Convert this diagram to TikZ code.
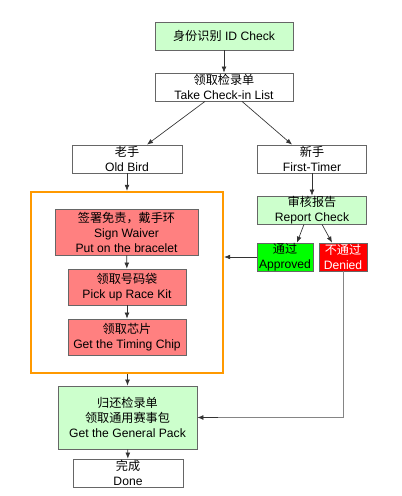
\documentclass[tikz,border=0pt]{standalone}
\usepackage{fontspec}
\setmainfont{Liberation Sans}
\newfontfamily\cjk{Noto Sans CJK SC}
\usetikzlibrary{arrows.meta,calc,positioning}
\definecolor{lgreen}{HTML}{CCFFCC}
\definecolor{lred}{HTML}{FF8080}
\definecolor{bgreen}{HTML}{00FF00}
\definecolor{bred}{HTML}{FF0000}
\definecolor{orng}{HTML}{FF9900}
\definecolor{edge}{HTML}{666666}
\definecolor{arr}{HTML}{333333}
\tikzset{
  box/.style={draw=edge, line width=0.6pt, align=center, inner sep=0pt,
    font=\fontsize{9.1pt}{11.3pt}\selectfont},
  bx/.style 2 args={box, minimum width=#1*0.75pt, minimum height=#2*0.75pt},
  conn/.style={draw=arr, line width=0.5pt, -{Latex[length=4.5pt,width=3.6pt]}},
  plain/.style={draw=edge!80, line width=0.7pt},
}
\begin{document}
\begin{tikzpicture}[x=0.75pt,y=-0.75pt]
\useasboundingbox (0,0) rectangle (401,496);
% nodes
\node[bx={138}{28}, fill=lgreen] (id) at (224,36) {{\cjk 身份识别} ID Check};
\node[bx={138}{28}, fill=white] (list) at (224,87) {{\cjk 领取检录单}\\Take Check-in List};
\node[bx={110}{28}, fill=white] (old) at (127,159) {{\cjk 老手}\\Old Bird};
\node[bx={109}{28}, fill=white] (first) at (312,159) {{\cjk 新手}\\First-Timer};
\node[draw=orng, line width=1.8pt, minimum width=192*0.75pt, minimum height=181*0.75pt, inner sep=0pt] (frame) at (127,282.5) {};
\node[bx={143}{46}, fill=lred] (sign) at (126.5,232) {{\cjk 签署免责，戴手环}\\Sign Waiver\\Put on the bracelet};
\node[bx={118}{36}, fill=lred] (kit) at (127,287) {{\cjk 领取号码袋}\\Pick up Race Kit};
\node[bx={118}{36}, fill=lred] (chip) at (127,337) {{\cjk 领取芯片}\\Get the Timing Chip};
\node[bx={109}{28}, fill=lgreen] (report) at (312,210) {{\cjk 审核报告}\\Report Check};
\node[bx={56}{28}, fill=bgreen] (appr) at (285,257) {{\cjk 通过}\\Approved};
\node[bx={48}{28}, fill=bred, text=white] (deny) at (343,257) {{\cjk 不通过}\\Denied};
\node[bx={139}{63}, fill=lgreen] (pack) at (127.5,417.5) {{\cjk 归还检录单}\\{\cjk 领取通用赛事包}\\Get the General Pack};
\node[bx={110}{28}, fill=white] (done) at (128,473) {{\cjk 完成}\\Done};
% connectors
\draw[conn] (id) -- (list);
\draw[conn] ($(list.south)+(-19,0)$) -- ($(old.north)+(20,0)$);
\draw[conn] ($(list.south)+(18,0)$) -- ($(first.north)+(-20,0)$);
\draw[conn] (old) -- (frame.north -| old);
\draw[conn] (sign) -- (kit);
\draw[conn] (kit) -- (chip);
\draw[conn] (frame.south -| pack) -- (pack);
\draw[conn] (pack) -- (done);
\draw[conn] (first) -- (report);
\draw[conn] ($(report.south)+(-8,0)$) -- ($(appr.north)+(12,0)$);
\draw[conn] ($(report.south)+(10,0)$) -- ($(deny.north)+(-11,0)$);
\draw[conn] (appr.west) -- (appr.west -| frame.east);
\draw[plain] (deny.south) |- ($(pack.east)+(20,0)$);
\draw[conn] ($(pack.east)+(21,0)$) -- (pack.east);
\end{tikzpicture}
\end{document}
